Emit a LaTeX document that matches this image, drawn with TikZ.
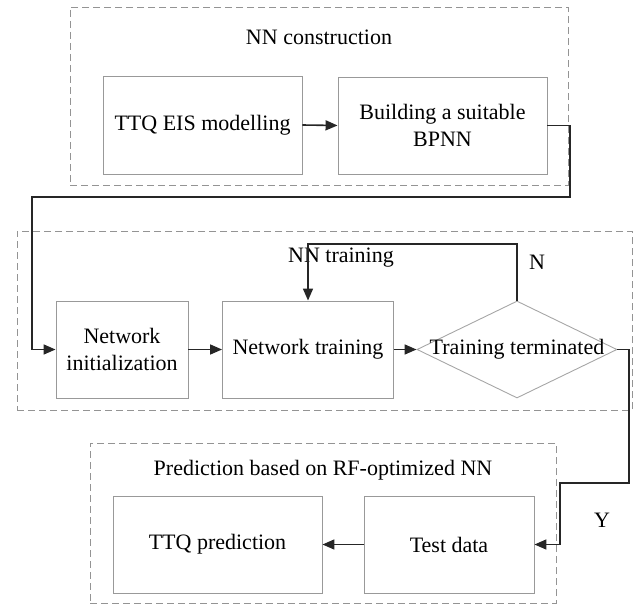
\documentclass[tikz,border=0pt]{standalone}
\usepackage{fontspec}
\setmainfont{Liberation Serif}
\usetikzlibrary{arrows.meta,shapes.geometric}
\tikzset{
  grp/.style={draw=black!42, dash pattern=on 7pt off 4pt, line width=0.9pt, inner sep=0pt, fill=none},
  box/.style={draw=black!40, line width=0.9pt, inner sep=0pt, align=center, font=\fontsize{22}{27}\selectfont, fill=white},
  decision/.style={draw=black!35, line width=0.9pt, diamond, inner sep=0pt},
  lbl/.style={font=\fontsize{22}{27}\selectfont, inner sep=0pt},
  conn/.style={draw=black!85, line width=1.6pt, -{Triangle[length=12pt,width=10pt]}},
}
\begin{document}
\begin{tikzpicture}[x=1pt,y=-1pt]
\useasboundingbox (0,0) rectangle (641,605);
% group frames
\node[grp, minimum width=498pt, minimum height=178pt] (g1) at (319,96) {};
\node[grp, minimum width=615pt, minimum height=179pt] (g2) at (324.5,320.5) {};
\node[grp, minimum width=466pt, minimum height=160pt] (g3) at (323,523) {};
% titles
\node[lbl] (t1) at (319,37) {NN construction};
\node[lbl] (t2) at (341,258) {NN training};
\node[lbl] (t3) at (323,470) {Prediction based on RF-optimized NN};
% boxes
\node[box, minimum width=199pt, minimum height=98pt] (ttq) at (202.5,125) {TTQ EIS modelling};
\node[box, minimum width=209pt, minimum height=97pt] (build) at (442.5,125.5) {Building a suitable\\BPNN};
\node[box, minimum width=132pt, minimum height=97pt] (init) at (122,349.5) {Network\\initialization};
\node[box, minimum width=171pt, minimum height=97pt] (train) at (308,349.5) {Network training};
\node[decision, minimum width=200pt, minimum height=97pt] (dec) at (517,349.5) {};
\node[lbl] (dect) at (517,349) {Training terminated};
\node[box, minimum width=209pt, minimum height=97pt] (pred) at (217.5,544.5) {TTQ prediction};
\node[box, minimum width=170pt, minimum height=97pt] (test) at (449,544.5) {Test data};
% branch labels
\node[lbl] (n) at (537,262) {N};
\node[lbl] (y) at (602,520) {Y};
% bend points
\coordinate (b1) at (570,197);
\coordinate (b2) at (32,349.5);
\coordinate (fb) at (308,244);
\coordinate (y1) at (629,483);
\coordinate (y2) at (560,544.5);
% connectors
\draw[conn] (ttq.east) -- (build.west);
\draw[conn] (build.east) -| (b1) -| (b2) -- (init.west);
\draw[conn] (init.east) -- (train.west);
\draw[conn] (train.east) -- (dec.west);
\draw[conn] (dec.north) |- (fb) -- (train.north);
\draw[conn] (dec.east) -| (y1) -| (y2) -- (test.east);
\draw[conn] (test.west) -- (pred.east);
\end{tikzpicture}
\end{document}
